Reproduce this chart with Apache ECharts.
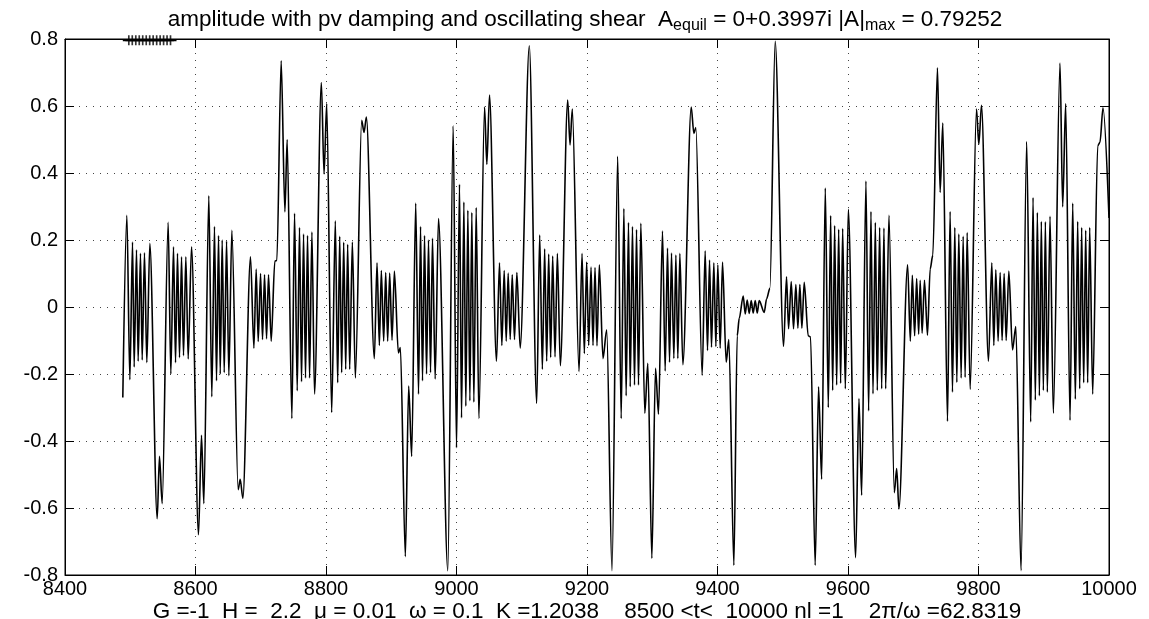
<!DOCTYPE html>
<html>
<head>
<meta charset="utf-8">
<script src="https://cdn.jsdelivr.net/npm/echarts@6/dist/echarts.min.js"></script>
<style>
html,body{margin:0;padding:0;background:#fff;}
#chart{width:1149px;height:619px;}
</style>
</head>
<body>
<div id="chart"></div>
<script>
// ---- data (local extrema of the amplitude trace) ----
const tVals = [
8488.6,8494.8,8499.4,8503.5,8506.0,8509.6,8512.1,8515.7,8518.3,8521.8,8525.4,8530.0,8541.3,8544.8,8548.9,8558.1,8562.2,8566.3,8569.4,8572.4,8575.5,8578.6,8581.6,8585.2,8588.8,8593.9,8604.6,8609.2,8612.8,8620.4,8625.0,8629.1,8632.2,8635.3,
8637.9,8640.9,8644.0,8647.6,8651.1,8655.7,8665.4,8668.5,8672.6,8684.3,8689.5,8693.0,8696.1,8699.7,8702.7,8705.8,8708.9,8711.9,8716.0,8721.6,8724.7,8731.3,8737.0,8740.5,8747.7,8751.8,8755.9,8759.4,8762.5,8765.6,8768.6,8771.7,8774.8,8778.4,8782.4,
8792.9,8797.0,8801.1,8808.7,8814.3,8817.9,8821.0,8824.0,8827.1,8830.2,8833.2,8836.3,8840.4,8845.0,8854.7,8858.3,8861.9,8874.1,8878.2,8881.8,8884.8,8888.4,8891.5,8894.5,8897.6,8901.2,8904.8,8910.9,8914.0,8921.6,8926.7,8931.3,8937.5,
8941.8,8944.9,8947.9,8951.0,8954.1,8957.1,8960.2,8963.2,8967.3,8972.4,8986.7,8994.9,9000.0,9004.6,9007.7,9011.3,9014.3,9017.4,9020.5,9023.5,9026.6,9030.2,9034.3,9043.0,9046.5,9050.6,9061.3,9065.9,9069.5,9073.1,9076.2,9079.2,9082.3,9085.4,9088.9,9092.5,9097.6,
9111.6,9122.9,9127.5,9131.6,9135.1,9138.2,9141.3,9144.3,9147.4,9151.0,9154.6,9159.1,9170.4,9174.0,9177.5,9187.8,9192.4,9195.9,9199.5,9202.6,9206.2,9209.2,9212.3,9215.3,9218.9,9224.5,9230.2,9238.3,9247.0,
9252.4,9256.5,9260.0,9263.6,9266.2,9269.7,9272.8,9275.9,9278.9,9282.5,9288.6,9293.2,9299.4,9305.0,9309.6,9315.7,9319.8,9323.4,9326.5,9329.5,9333.1,9336.2,9339.2,9342.3,9346.9,9359.7,9363.8,9366.8,9376.5,9381.1,9384.7,9387.8,9390.8,9394.4,9397.5,9400.5,
9404.1,9407.7,9413.3,9417.4,9425.1,9430.2,9433.3,9439.4,9442.5,9445.5,9448.6,9451.7,9454.7,9457.8,9460.9,9463.9,9471.6,9475.2,9480.3,9488.4,9501.2,9505.8,9508.9,9513.0,9516.5,9520.1,9523.2,9526.2,9529.3,9532.9,9539.0,9542.6,9549.7,9554.9,
9559.6,9565.2,9569.8,9573.4,9576.5,9579.5,9582.6,9585.7,9588.7,9591.8,9595.9,9600.5,9611.7,9616.8,9620.9,9627.5,9631.6,9635.2,9638.3,9641.9,9644.9,9648.5,9651.6,9655.1,9657.7,9662.8,9671.0,9674.6,9678.1,9691.4,9695.5,9698.6,9702.1,9705.2,9708.3,
9710.6,9713.6,9717.2,9721.8,9725.9,9730.0,9737.1,9741.2,9745.3,9752.5,9756.5,9760.1,9763.7,9766.8,9769.8,9773.4,9776.5,9779.5,9782.6,9787.2,9796.9,9800.5,9804.6,9815.3,9820.4,9823.5,9826.5,9830.1,9833.2,9836.2,9839.3,9842.4,9846.5,9852.1,9857.2,
9865.2,9873.8,9880.0,9883.6,9887.1,9890.2,9893.3,9896.3,9899.4,9902.5,9905.5,9909.6,9914.7,9924.9,9929.0,9933.6,9940.3,9944.4,9948.4,9952.0,9955.1,9958.1,9961.2,9964.3,9967.3,9970.4,9975.0,9982.7,9986.2,9990.8,10000
];
const ampVals = [
-0.27,0.274,-0.217,0.194,-0.179,0.171,-0.162,0.16,-0.158,0.162,-0.166,0.19,-0.632,-0.446,-0.587,0.253,-0.2,0.18,-0.166,0.16,-0.151,0.15,-0.145,0.15,-0.155,0.18,-0.68,-0.383,-0.587,0.332,-0.268,0.24,-0.22,0.213,
-0.2,0.2,-0.196,0.197,-0.205,0.229,-0.545,-0.514,-0.571,0.15,-0.123,0.113,-0.103,0.1,-0.097,0.096,-0.095,0.096,-0.102,0.137,0.139,0.735,0.284,0.5,-0.333,0.28,-0.25,0.237,-0.223,0.218,-0.212,0.213,-0.212,0.224,-0.26,
0.67,0.397,0.607,-0.315,0.257,-0.226,0.211,-0.196,0.193,-0.186,0.187,-0.186,0.194,-0.212,0.557,0.521,0.567,-0.154,0.132,-0.115,0.109,-0.102,0.103,-0.102,0.101,-0.099,0.107,-0.137,-0.121,-0.745,-0.236,-0.446,0.31,
-0.26,0.24,-0.22,0.213,-0.2,0.2,-0.196,0.205,-0.215,0.264,-0.787,0.541,-0.42,0.366,-0.331,0.313,-0.296,0.289,-0.28,0.282,-0.284,0.297,-0.333,0.597,0.426,0.633,-0.162,0.132,-0.115,0.109,-0.102,0.101,-0.097,0.096,-0.097,0.103,-0.123,
0.78,-0.288,0.215,-0.186,0.174,-0.162,0.158,-0.151,0.152,-0.149,0.16,-0.175,0.618,0.484,0.591,-0.193,0.16,-0.139,0.134,-0.115,0.119,-0.115,0.118,-0.116,0.126,-0.154,-0.068,-0.787,0.45,
-0.333,0.294,-0.265,0.252,-0.238,0.24,-0.233,0.231,-0.233,0.25,-0.317,-0.168,-0.75,-0.183,-0.32,0.227,-0.191,0.176,-0.165,0.161,-0.154,0.155,-0.154,0.16,-0.172,0.597,0.518,0.536,-0.204,0.168,-0.13,0.14,-0.12,0.132,-0.118,0.126,
-0.123,0.134,-0.165,-0.097,-0.771,-0.086,-0.034,0.033,-0.021,0.021,-0.019,0.019,-0.018,0.019,-0.018,0.019,-0.016,0.024,0.056,0.793,-0.118,0.09,-0.065,0.076,-0.065,0.067,-0.063,0.067,-0.063,0.074,-0.086,-0.089,-0.771,-0.238,
-0.514,0.355,-0.3,0.273,-0.249,0.243,-0.233,0.232,-0.228,0.234,-0.244,0.292,-0.748,-0.273,-0.562,0.376,-0.31,0.285,-0.259,0.252,-0.249,0.237,-0.244,0.236,-0.244,0.274,-0.554,-0.482,-0.603,0.126,-0.102,0.095,-0.086,0.085,-0.081,
0.08,-0.078,0.08,-0.084,0.113,0.155,0.714,0.342,0.549,-0.341,0.285,-0.254,0.237,-0.225,0.218,-0.212,0.211,-0.21,0.222,-0.246,0.591,0.486,0.602,-0.162,0.132,-0.115,0.111,-0.102,0.103,-0.1,0.1,-0.1,0.107,-0.128,-0.058,
-0.787,0.494,-0.343,0.327,-0.278,0.282,-0.265,0.255,-0.249,0.254,-0.254,0.271,-0.317,0.728,0.299,0.607,-0.338,0.31,-0.275,0.255,-0.244,0.237,-0.226,0.229,-0.226,0.237,-0.26,0.481,0.492,0.595,0.266
];
// short '+' marked segment near the top-left corner
const legendLineT = [8488.6, 8570.9];
const legendLineA = [0.796, 0.796];
const plusT = [8497.8,8503.1,8508.5,8513.8,8519.1,8524.5,8529.8,8535.1,8540.5,8545.8,8551.1,8556.4,8561.7];
const plusA = [0.796,0.796,0.796,0.796,0.796,0.796,0.796,0.796,0.796,0.796,0.796,0.796,0.796];

const xTickLabels = ['8400','8600','8800','9000','9200','9400','9600','9800','10000'];
const yTickLabels = ['-0.8','-0.6','-0.4','-0.2','0','0.2','0.4','0.6','0.8'];

const titleParts = ['amplitude with pv damping and oscillating shear  A', 'equil', ' = 0+0.3997i |A|', 'max', ' = 0.79252'];
const xlabelText = 'G =-1  H =  2.2  \u03bc = 0.01  \u03c9 = 0.1  K =1.2038    8500 <t<  10000 nl =1    2\u03c0/\u03c9 =62.8319';

// ---- chart ----
const FONT = 'Liberation Sans, Arial, Helvetica, sans-serif';
const X_MIN = 8400, X_MAX = 10000, X_STEP = 200;
const Y_MIN = -0.8, Y_MAX = 0.8, Y_STEP = 0.2;

const mainData = tVals.map((t, i) => [t, ampVals[i]]);
const legendData = legendLineT.map((t, i) => [t, legendLineA[i]]);
const plusData = plusT.map((t, i) => [t, plusA[i]]);

const xLab = v => xTickLabels[Math.round((v - X_MIN) / X_STEP)] || '';
const yLab = v => yTickLabels[Math.round((v - Y_MIN) / Y_STEP)] || '';

const dotted = {show: true, lineStyle: {color: '#444', width: 1, type: [1, 6]}};
const tick = {show: true, inside: true, length: 9, lineStyle: {color: '#000', width: 1}};
const axLine = {show: true, onZero: false, lineStyle: {color: '#000', width: 1}};

const chart = echarts.init(document.getElementById('chart'), null, {renderer: 'canvas'});
chart.setOption({
  animation: false,
  backgroundColor: '#fff',
  title: [
    {
      text: '{a|' + titleParts[0] + '}{b|' + titleParts[1] + '}{a|' + titleParts[2] + '}{b|' + titleParts[3] + '}{a|' + titleParts[4] + '}',
      left: 580, top: 0, textAlign: 'center',
      textStyle: {
        fontWeight: 'normal',
        rich: {
          a: {fontSize: 22.5, fontFamily: FONT, color: '#000', fontWeight: 'normal'},
          b: {fontSize: 16, fontFamily: FONT, color: '#000', fontWeight: 'normal', padding: [13, 0, 0, 0]}
        }
      }
    },
    {
      text: xlabelText, left: 582, top: 595, textAlign: 'center',
      textStyle: {fontSize: 22.5, fontFamily: FONT, color: '#000', fontWeight: 'normal'}
    }
  ],
  grid: {left: 65, right: 40, top: 39, bottom: 44, show: true, borderColor: '#000', borderWidth: 1, backgroundColor: 'transparent'},
  xAxis: [
    {type: 'value', min: X_MIN, max: X_MAX, interval: X_STEP, position: 'bottom',
     axisLine: axLine, axisTick: tick, splitLine: dotted,
     axisLabel: {formatter: xLab, fontSize: 20, fontFamily: FONT, color: '#000', margin: 4}},
    {type: 'value', min: X_MIN, max: X_MAX, interval: X_STEP, position: 'top',
     axisLine: axLine, axisTick: tick, splitLine: {show: false}, axisLabel: {show: false}}
  ],
  yAxis: [
    {type: 'value', min: Y_MIN, max: Y_MAX, interval: Y_STEP, position: 'left',
     axisLine: axLine, axisTick: tick, splitLine: dotted,
     axisLabel: {formatter: yLab, fontSize: 20, fontFamily: FONT, color: '#000', margin: 7}},
    {type: 'value', min: Y_MIN, max: Y_MAX, interval: Y_STEP, position: 'right',
     axisLine: axLine, axisTick: tick, splitLine: {show: false}, axisLabel: {show: false}}
  ],
  series: [
    {type: 'line', data: mainData, xAxisIndex: 0, yAxisIndex: 0, showSymbol: false, symbol: 'none',
     smooth: 0.3, smoothMonotone: 'x', lineStyle: {color: '#000', width: 1.6}, z: 5},
    {type: 'line', data: legendData, xAxisIndex: 0, yAxisIndex: 0, showSymbol: false, symbol: 'none',
     lineStyle: {color: '#000', width: 1.6}, z: 6},
    {type: 'scatter', data: plusData, xAxisIndex: 0, yAxisIndex: 0,
     symbol: 'path://M2.9,0h1.8v10h-1.8zM0,4.2h7.6v1.6h-7.6z', symbolSize: [7, 10],
     itemStyle: {color: '#000'}, z: 7}
  ]
});
</script>
</body>
</html>
